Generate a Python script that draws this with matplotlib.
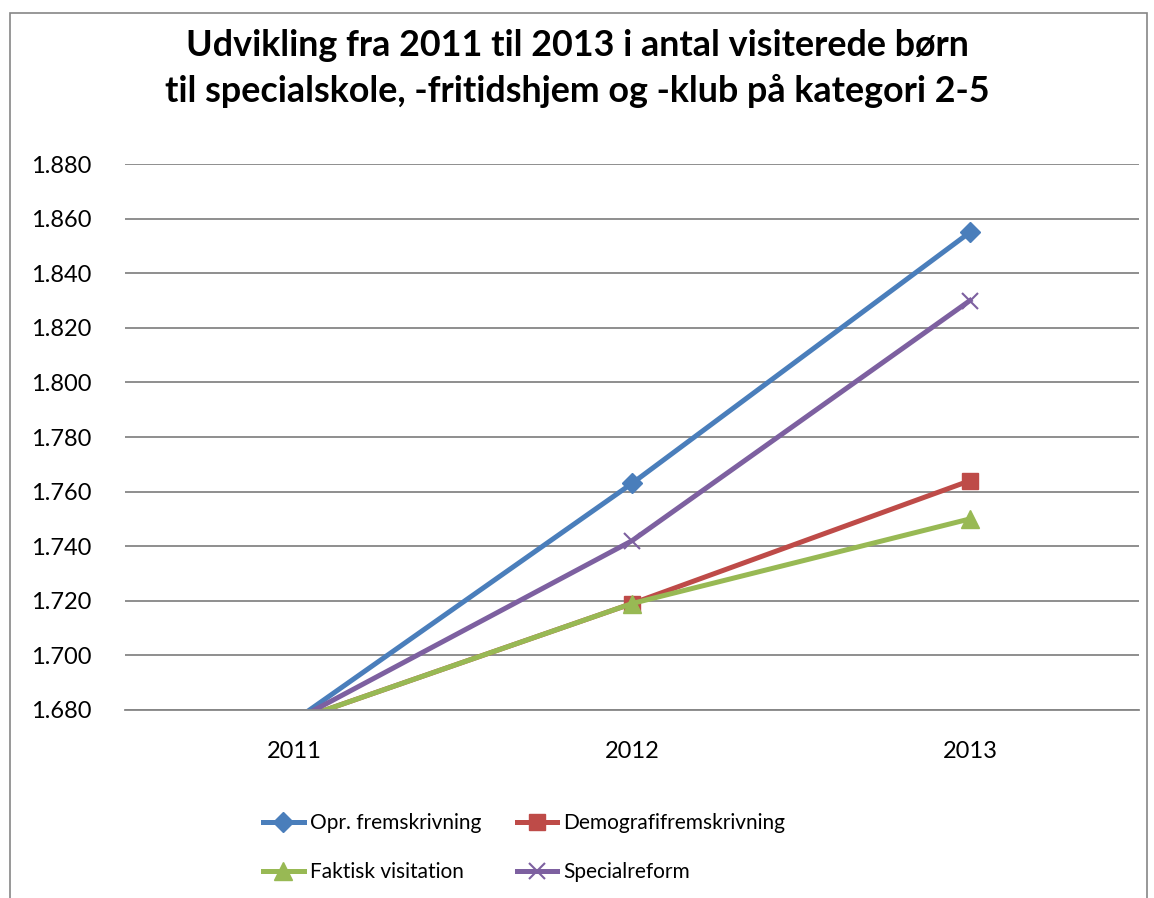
import matplotlib.pyplot as plt
from matplotlib.ticker import FuncFormatter
from matplotlib.patches import Rectangle

years = ['2011', '2012', '2013']
opr = [1676, 1763, 1855]
demografi = [1676, 1719, 1764]
faktisk = [1676, 1719, 1750]
special = [1676, 1742, 1830]
names = ['Opr. fremskrivning', 'Demografifremskrivning', 'Faktisk visitation', 'Specialreform']

plt.rcParams['font.family'] = ['Lato', 'DejaVu Sans']
W, H = 1154, 898
fig = plt.figure(figsize=(W / 100, H / 100), dpi=100)
fig.patches.append(Rectangle((10 / W, -0.1), 1137 / W, 1.1 - 13 / H, transform=fig.transFigure,
                             fill=False, edgecolor='#868686', lw=1.2))
ax = fig.add_axes([125 / W, (H - 710) / H, (1139 - 125) / W, (710 - 164) / H])

x = range(len(years))
l1, = ax.plot(x, opr, color='#4A7EBB', lw=3.6, marker='D', ms=10, markevery=[1, 2], label=names[0])
l2, = ax.plot(x, demografi, color='#BE4B48', lw=3.6, marker='s', ms=12, markevery=[1, 2], label=names[1])
l3, = ax.plot(x, faktisk, color='#98B954', lw=3.6, marker='^', ms=13, markevery=[1, 2], label=names[2])
l4, = ax.plot(x, special, color='#7D60A0', lw=3.6, marker='x', ms=12, mew=1.5, markevery=[1, 2], label=names[3])

ax.set_xlim(-0.5, 2.5); ax.set_ylim(1680, 1880)
ax.set_yticks(range(1680, 1881, 20))
ax.yaxis.set_major_formatter(FuncFormatter(lambda v, p: f'{v:,.0f}'.replace(',', '.')))
ax.set_xticks(list(x), years)
ax.grid(axis='y', color='#868686', lw=1.3)
ax.set_axisbelow(True)
for s in ['top', 'right', 'left']:
    ax.spines[s].set_visible(False)
ax.spines['bottom'].set_color('#868686'); ax.spines['bottom'].set_linewidth(1.3)
ax.tick_params(length=0, labelsize=17, pad=24)
ax.tick_params(axis='x', pad=22)

fig.text(577 / W, 1 - 46 / H, 'Udvikling fra 2011 til 2013 i antal visiterede børn', ha='center', va='center',
         fontsize=25.8, fontweight='bold')
fig.text(577 / W, 1 - 91 / H, 'til specialskole, -fritidshjem og -klub på kategori 2-5', ha='center', va='center',
         fontsize=25.8, fontweight='bold')

# row-wise order like Excel
fig.legend([l1, l3, l2, l4], [names[0], names[2], names[1], names[3]],
           loc='upper left', bbox_to_anchor=(263 / W, 1 - 813 / H), ncol=2, frameon=False, fontsize=15,
           handlelength=1.95, handletextpad=0.3, columnspacing=1.7, labelspacing=1.4, borderpad=0, borderaxespad=0)

fig.savefig('out.png', dpi=100)
